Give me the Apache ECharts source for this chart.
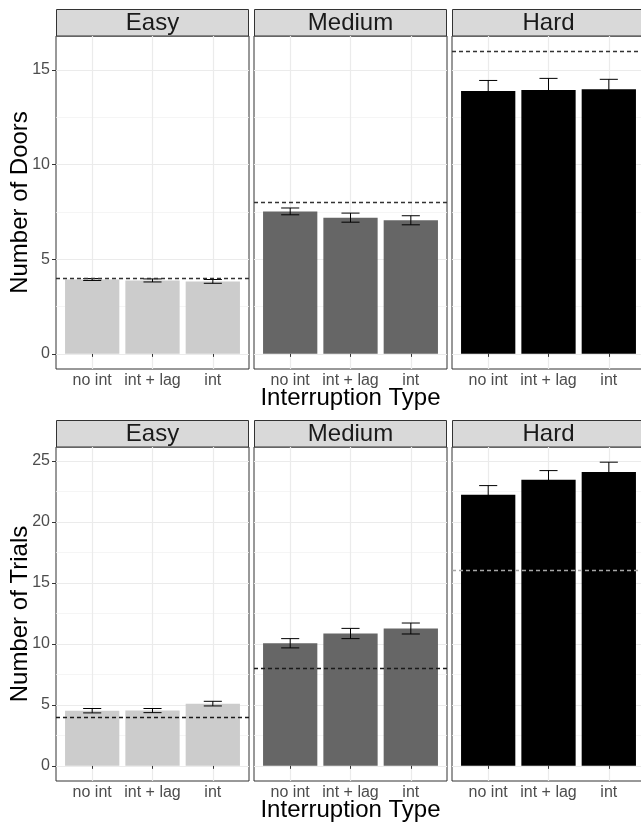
<!DOCTYPE html>
<html>
<head>
<meta charset="utf-8">
<script src="https://cdn.jsdelivr.net/npm/echarts@6/dist/echarts.min.js"></script>
<style>
	html, body { margin: 0; padding: 0; background: #fff; }
	#chart { width: 641px; height: 822px; }
</style>
</head>
<body>
<div id="chart"></div>
<script>
// facet levels and x categories
const levels = ['Easy', 'Medium', 'Hard']
const categories = ['no int', 'int + lag', 'int']

// Number of Doors: mean and standard error per level (rows) and category (cols)
const doorsMean = [
	[3.93, 3.88, 3.83],
	[7.53, 7.20, 7.06],
	[13.89, 13.94, 13.99]
]
const doorsSe = [
	[0.05, 0.08, 0.10],
	[0.18, 0.24, 0.24],
	[0.56, 0.62, 0.52]
]

// Number of Trials
const trialsMean = [
	[4.52, 4.53, 5.10],
	[10.05, 10.85, 11.26],
	[22.22, 23.45, 24.10]
]
const trialsSe = [
	[0.18, 0.17, 0.19],
	[0.38, 0.42, 0.45],
	[0.76, 0.76, 0.80]
]

// dashed reference line per level
const optimal = [4, 8, 16]

const doorsTicks = [0, 5, 10, 15]
const doorsMinor = [2.5, 7.5, 12.5]
const trialsTicks = [0, 5, 10, 15, 20, 25]
const trialsMinor = [2.5, 7.5, 12.5, 17.5, 22.5]

const fills = ['#CCCCCC', '#666666', '#000000']

const panelLeft = [56, 254, 452]
const panelW = 193
const rows = [
	{ top: 36, height: 333, stripTop: 9.5, title: 'Number of Doors', mean: doorsMean, se: doorsSe, ticks: doorsTicks, minor: doorsMinor, hline: ['#333333', '#333333', '#333333'] },
	{ top: 447, height: 334, stripTop: 420.5, title: 'Number of Trials', mean: trialsMean, se: trialsSe, ticks: trialsTicks, minor: trialsMinor, hline: ['#1A1A1A', '#1A1A1A', '#A6A6A6'] }
]

const chart = echarts.init(document.getElementById('chart'))

const grids = []
const xAxes = []
const yAxes = []
const series = []
const graphics = []

const barWidth = 0.9 * panelW / 3.2

rows.forEach((row, r) => {
	// ggplot style 5% expansion of the data range
	let top = Math.max(...optimal)
	row.mean.forEach((m, p) => m.forEach((v, k) => { top = Math.max(top, v + row.se[p][k]) }))
	const yMin = -0.05 * top
	const yMax = top * 1.05

	levels.forEach((level, p) => {
		const i = r * 3 + p
		grids.push({
			left: panelLeft[p], top: row.top, width: panelW, height: row.height,
			containLabel: false, outerBoundsMode: 'none',
			show: true, borderColor: '#333333', borderWidth: 1, backgroundColor: '#fff'
		})
		xAxes.push({
			gridIndex: i,
			type: 'value',
			min: 0.4,
			max: 3.6,
			axisLine: { show: false },
			axisTick: { show: true, customValues: [1, 2, 3], length: 3, lineStyle: { color: '#333333' } },
			axisLabel: {
				customValues: [1, 2, 3],
				formatter: v => categories[Math.round(v) - 1],
				color: '#4D4D4D', fontSize: 16, margin: 4, fontFamily: 'Liberation Sans'
			},
			splitLine: { show: true, lineStyle: { color: '#EBEBEB', width: 1.2 } },
			name: p === 1 ? 'Interruption Type' : '',
			nameLocation: 'middle',
			nameGap: 17,
			nameMoveOverlap: false,
			nameTextStyle: { color: '#000', fontSize: 24, fontFamily: 'Liberation Sans' }
		})
		yAxes.push({
			gridIndex: i,
			type: 'value',
			min: yMin,
			max: yMax,
			position: 'left',
			axisLine: { show: false },
			axisTick: { show: p === 0, customValues: row.ticks, length: 4, lineStyle: { color: '#333333' } },
			axisLabel: {
				show: p === 0, customValues: row.ticks,
				color: '#4D4D4D', fontSize: 16, margin: 6, fontFamily: 'Liberation Sans'
			},
			splitLine: { show: true, lineStyle: { color: '#EBEBEB', width: 1.2 } },
			name: p === 0 ? row.title : '',
			nameLocation: 'middle',
			nameGap: 24,
			nameMoveOverlap: false,
			nameTextStyle: { color: '#000', fontSize: 24, fontFamily: 'Liberation Sans' }
		})
		// second axis only for the minor grid lines
		yAxes.push({
			gridIndex: i,
			type: 'value',
			min: yMin,
			max: yMax,
			position: 'right',
			axisLine: { show: false },
			axisTick: { show: false, customValues: row.minor },
			axisLabel: { show: false, customValues: row.minor },
			splitLine: { show: true, lineStyle: { color: '#F2F2F2', width: 0.8 } }
		})

		series.push({
			type: 'bar',
			xAxisIndex: i,
			yAxisIndex: i * 2,
			data: row.mean[p].map((v, k) => [k + 1, v]),
			barWidth: barWidth,
			itemStyle: { color: fills[p] },
			silent: true,
			markLine: {
				silent: true,
				symbol: 'none',
				label: { show: false },
				lineStyle: { type: [4, 3], color: row.hline[p], width: 1.3 },
				data: [{ yAxis: optimal[p] }]
			}
		})
		series.push({
			type: 'custom',
			xAxisIndex: i,
			yAxisIndex: i * 2,
			z: 3,
			silent: true,
			data: row.mean[p].map((v, k) => [k + 1, v - row.se[p][k], v + row.se[p][k]]),
			renderItem: (params, api) => {
				const lo = api.coord([api.value(0), api.value(1)])
				const hi = api.coord([api.value(0), api.value(2)])
				const half = api.size([0.15, 0])[0]
				const style = { stroke: '#000', lineWidth: 1 }
				return {
					type: 'group',
					children: [
						{ type: 'line', shape: { x1: lo[0], y1: lo[1], x2: hi[0], y2: hi[1] }, style },
						{ type: 'line', shape: { x1: lo[0] - half, y1: lo[1], x2: lo[0] + half, y2: lo[1] }, style },
						{ type: 'line', shape: { x1: hi[0] - half, y1: hi[1], x2: hi[0] + half, y2: hi[1] }, style }
					]
				}
			}
		})

		// facet strip
		graphics.push({
			type: 'rect',
			shape: { x: panelLeft[p] + 0.5, y: row.stripTop, width: panelW - 1, height: row.top - row.stripTop },
			style: { fill: '#D9D9D9', stroke: '#333333', lineWidth: 1 }
		})
		graphics.push({
			type: 'text',
			x: panelLeft[p] + panelW / 2,
			y: (row.stripTop + row.top) / 2 + 1,
			style: {
				text: level, fill: '#1A1A1A', fontSize: 24, fontFamily: 'Liberation Sans',
				align: 'center', verticalAlign: 'middle'
			}
		})
	})
})

chart.setOption({
	animation: false,
	backgroundColor: '#fff',
	grid: grids,
	xAxis: xAxes,
	yAxis: yAxes,
	series: series,
	graphic: graphics
})
</script>
</body>
</html>
